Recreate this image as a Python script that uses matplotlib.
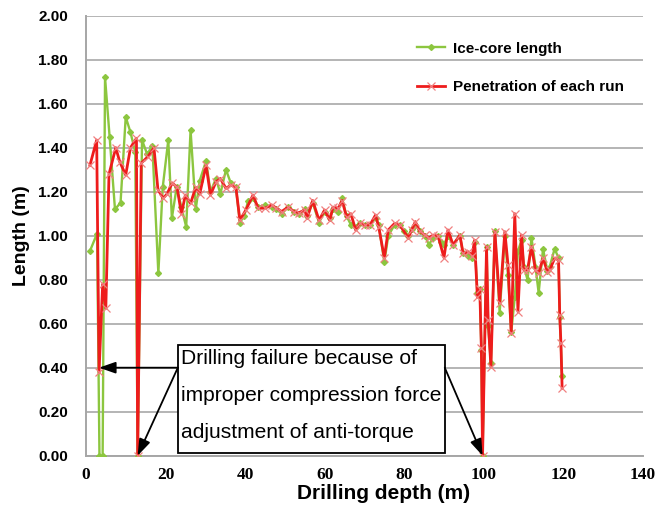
import matplotlib
matplotlib.use("Agg")
import matplotlib.pyplot as plt
from matplotlib.patches import Rectangle

# ---- data ----
core_depth = [1.0, 2.8, 3.4, 4.2, 4.8, 5.95, 7.3, 8.7, 10.0, 11.2, 12.4, 13.0,
              14.1, 15.4, 16.7, 18.2, 19.3, 20.7, 21.6, 22.8, 24.0, 25.2, 26.3,
              27.6, 28.6, 30.2, 31.3, 32.7, 33.8, 35.2, 36.4, 37.7, 38.7, 39.8,
              40.8, 42.0, 43.3, 45.0, 46.7, 47.9, 49.2, 50.8, 52.3, 53.6, 55.0,
              55.6, 57.0, 58.6, 60.0, 61.3, 62.1, 63.4, 64.4, 65.5, 66.6, 67.8,
              68.8, 70.1, 71.4, 72.8, 73.6, 75.0, 76.0, 77.6, 78.9, 80.0, 81.0,
              81.9, 82.8, 83.9, 85.2, 86.2, 87.3, 88.5, 89.3, 90.0, 91.0, 92.3,
              94.0, 94.8, 96.1, 97.1, 97.7, 98.4, 99.0, 99.4, 99.7, 100.7, 101.1,
              101.8, 102.8, 104.0, 105.3, 106.1, 106.9, 107.8, 108.6, 109.5,
              110.1, 111.0, 112.0, 113.0, 113.8, 114.9, 116.0, 116.6, 117.8,
              118.8, 119.1, 119.7]
core_length = [0.93, 1.01, 0.0, 0.0, 1.72, 1.45, 1.12, 1.15, 1.54, 1.47, 1.38, 0.0,
               1.435, 1.37, 1.41, 0.83, 1.22, 1.435, 1.08, 1.22, 1.13, 1.04, 1.48,
               1.12, 1.25, 1.34, 1.20, 1.26, 1.19, 1.30, 1.24, 1.22, 1.06, 1.09,
               1.16, 1.17, 1.13, 1.14, 1.13, 1.12, 1.10, 1.13, 1.11, 1.10, 1.12,
               1.09, 1.15, 1.06, 1.11, 1.08, 1.12, 1.11, 1.17, 1.09, 1.05, 1.04,
               1.06, 1.05, 1.05, 1.08, 1.05, 0.88, 1.00, 1.05, 1.05, 1.02, 1.00,
               1.03, 1.05, 1.02, 1.00, 0.96, 0.99, 1.00, 0.97, 0.96, 1.00, 0.96,
               1.00, 0.92, 0.91, 0.90, 0.97, 0.74, 0.76, 0.48, 0.0, 0.95, 0.59,
               0.42, 1.02, 0.65, 1.00, 0.82, 0.56, 0.72, 0.93, 0.98,
               0.86, 0.80, 0.99, 0.86, 0.74, 0.94, 0.84, 0.86, 0.94,
               0.90, 0.63, 0.36]

pen_depth = [1.0, 2.7, 3.3, 4.2, 5.0, 5.8, 7.5, 8.5, 10.0, 11.2, 12.7, 13.0,
             13.9, 15.6, 17.1, 18.1, 19.4, 20.4, 21.7, 22.9, 24.0, 25.0, 26.3,
             27.6, 28.6, 30.2, 31.3, 32.7, 33.8, 35.2, 36.4, 37.7, 38.7, 40.2,
             42.0, 43.3, 45.0, 46.7, 47.9, 49.2, 50.8, 52.3, 53.6, 55.0, 55.6,
             57.0, 58.6, 60.0, 61.3, 62.1, 63.4, 64.4, 65.5, 66.6, 67.8, 68.8,
             70.1, 71.4, 72.8, 73.6, 75.0, 76.0, 77.6, 78.9, 81.0, 81.9, 82.8,
             83.9, 85.2, 86.2, 87.3, 88.5, 90.0, 91.0, 92.3, 94.0, 94.8, 96.1,
             97.1, 97.7, 98.4, 99.0, 99.4, 99.7, 100.7, 101.1, 101.8, 102.8,
             104.0, 105.3, 106.1, 106.9, 107.8, 108.6, 109.5, 110.1, 111.0,
             112.0, 113.0, 113.8, 114.9, 116.0, 116.6, 117.8, 118.8, 119.1,
             119.4, 119.7]
pen_length = [1.32, 1.435, 0.38, 0.78, 0.67, 1.28, 1.40, 1.336, 1.276, 1.40, 1.443, 0.0,
              1.33, 1.36, 1.40, 1.21, 1.17, 1.19, 1.24, 1.22, 1.10, 1.185, 1.147,
              1.22, 1.19, 1.32, 1.185, 1.245, 1.26, 1.215, 1.23, 1.22, 1.07, 1.117,
              1.185, 1.125, 1.125, 1.14, 1.125, 1.11, 1.13, 1.11, 1.105, 1.117, 1.08,
              1.16, 1.07, 1.117, 1.07, 1.13, 1.125, 1.16, 1.086, 1.10, 1.026, 1.056,
              1.049, 1.049, 1.094, 1.04, 0.90, 1.026, 1.056, 1.049, 0.99, 1.026, 1.064,
              1.02, 1.003, 0.99, 1.003, 1.0, 0.90, 1.026, 0.958, 1.003, 0.92, 0.927,
              0.91, 0.98, 0.72, 0.76, 0.49, 0.0, 0.95, 0.617, 0.405, 1.018,
              0.693, 1.018, 0.867, 0.556, 1.10, 0.655, 1.003, 0.844, 0.844,
              0.95, 0.844, 0.83, 0.897, 0.836, 0.844, 0.897, 0.89, 0.64,
              0.51, 0.306]

x_ticks = [0, 20, 40, 60, 80, 100, 120, 140]
y_ticks = [0.0, 0.2, 0.4, 0.6, 0.8, 1.0, 1.2, 1.4, 1.6, 1.8, 2.0]

annotation_lines = ["Drilling failure because of",
                    "improper compression force",
                    "adjustment of anti-torque"]
annotation_targets = [(3.3, 0.40), (13.0, 0.0), (99.7, 0.0)]

# ---- figure ----
fig = plt.figure(figsize=(6.56, 5.08), dpi=100)
ax = fig.add_axes([0.131, 0.103, 0.849, 0.866])

green = "#8cc63f"
red = "#ee1c1c"

ax.plot(core_depth, core_length, color=green, lw=1.7, marker="D", ms=3,
        mfc=green, mec=green, label="Ice-core length", zorder=3)
ax.plot(pen_depth, pen_length, color=red, lw=2.0, marker="x", ms=6, mew=0.9,
        mec="#f08080", label="Penetration of each run", zorder=4)

ax.set_xlim(0, 140)
ax.set_ylim(0, 2.0)
ax.set_xticks(x_ticks)
ax.set_yticks(y_ticks)
ax.set_yticklabels([f"{v:.2f}" for v in y_ticks],
                   fontfamily="Liberation Sans", fontweight="bold", fontsize=11)
ax.set_xticklabels([str(v) for v in x_ticks],
                   fontfamily="Liberation Serif", fontweight="bold", fontsize=12.5)
ax.tick_params(axis="y", length=0, pad=13)
ax.tick_params(axis="x", length=0, pad=8)

ax.grid(axis="y", color="#b4b4b4", lw=1.4)
ax.set_axisbelow(True)
for s in ["top", "right"]:
    ax.spines[s].set_visible(False)
for s in ["left", "bottom"]:
    ax.spines[s].set_color("#a6a6a6")
    ax.spines[s].set_linewidth(1.4)

ax.set_xlabel("Drilling depth (m)", fontfamily="Liberation Sans",
              fontweight="bold", fontsize=15, va="center")
ax.xaxis.set_label_coords(0.535, -0.087)
ax.set_ylabel("Length (m)", fontfamily="Liberation Sans",
              fontweight="bold", fontsize=14, labelpad=6)

leg = ax.legend(loc="upper right", bbox_to_anchor=(0.99, 0.972), frameon=False,
                prop={"family": "Liberation Sans", "weight": "bold", "size": 11},
                labelspacing=1.6, handlelength=1.8, handletextpad=0.5)

# annotation box
box = Rectangle((23.1, 0.012), 90.2 - 23.1, 0.503 - 0.012, fc="white",
                ec="black", lw=1.3, zorder=6)
ax.add_patch(box)
for line, yv in zip(annotation_lines, [0.444, 0.274, 0.104]):
    ax.text(23.9, yv, line, fontfamily="Liberation Sans", fontsize=15.1,
            ha="left", va="center", zorder=7)

arrow_kw = dict(arrowstyle="-|>,head_length=1.0,head_width=0.35", color="black",
                lw=1.3, shrinkA=0, shrinkB=0)
starts = [(23.1, 0.40), (23.1, 0.40), (90.2, 0.40)]
for (tx, ty), (sx, sy) in zip(annotation_targets, starts):
    ax.annotate("", xy=(tx, ty), xytext=(sx, sy), arrowprops=arrow_kw, zorder=8)

fig.savefig("out.png", dpi=100)
